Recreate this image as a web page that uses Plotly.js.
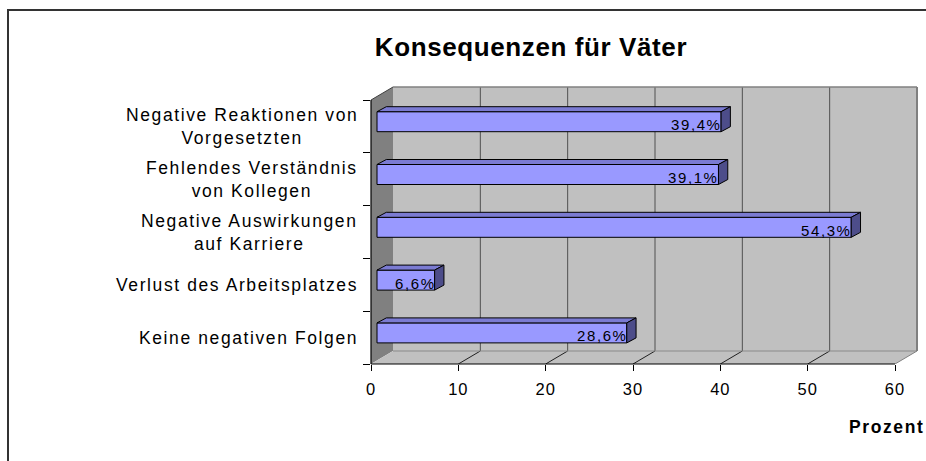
<!DOCTYPE html>
<html><head><meta charset="utf-8">
<script src="https://cdn.plot.ly/plotly-3.0.1.min.js"></script>
<style>
html,body{margin:0;padding:0;background:#fff;}
#chart{width:926px;height:461px;}
text.annotation-text{letter-spacing:1.6px;}
text.gtitle{letter-spacing:0.6px;}
.xtick text{letter-spacing:1px;}
</style>
</head><body><div id="chart"></div>
<script>
// ---- data (bottom to top) ----
const categories = [
  "Keine negativen Folgen",
  "Verlust des Arbeitsplatzes",
  "Negative Auswirkungen<br>auf Karriere",
  "Fehlendes Verständnis<br>von Kollegen",
  "Negative Reaktionen von<br>Vorgesetzten"
];
const values = [28.6, 6.6, 54.3, 39.1, 39.4];
const xTickVals = [0, 10, 20, 30, 40, 50, 60];
const xTickText = ["0", "10", "20", "30", "40", "50", "60"];
const chartTitle = "Konsequenzen für Väter";
const xTitle = "Prozent";

// ---- geometry ----
const L = 371, R = 919, T = 85, B = 364;
const k = 524 / 60;      // px per percent
const m = 52.8;          // px per category
const xr = [0, (R - L) / k];
const yr = [-0.5, -0.5 + (B - T) / m];
const dX = 22 / k, dY = 13 / m;     // wall depth
const bX = 6 / k, bY = 4.7 / m;     // bar plane offset
const bH = 20 / m;                  // bar thickness
const tX = 9.3 / k, tY = 5 / m;     // bar depth
const xMax = xTickVals[xTickVals.length - 1];
const yTop = categories.length - 0.5;

const px2x = p => (p - L) / (R - L);
const py2y = p => (B - p) / (B - T);
const d2px = x => (x - xr[0]) / (xr[1] - xr[0]);
const d2py = y => (y - yr[0]) / (yr[1] - yr[0]);

const P = pts => "M" + pts.map(p => p[0] + "," + p[1]).join(" L") + " Z";

const shapes = [];
// back wall
shapes.push({type:"path", xref:"x", yref:"y", layer:"below", line:{width:0},
  fillcolor:"#c0c0c0",
  path:P([[dX,-0.5+dY],[xMax+dX,-0.5+dY],[xMax+dX,yTop+dY],[dX,yTop+dY]])});
// left wall
shapes.push({type:"path", xref:"x", yref:"y", layer:"below", line:{width:0},
  fillcolor:"#808080",
  path:P([[0,-0.5],[dX,-0.5+dY],[dX,yTop+dY],[0,yTop]])});
// floor
shapes.push({type:"path", xref:"x", yref:"y", layer:"below", line:{width:0},
  fillcolor:"#c0c0c0",
  path:P([[0,-0.5],[xMax,-0.5],[xMax+dX,-0.5+dY],[dX,-0.5+dY]])});
// back gridlines
xTickVals.slice(1, -1).forEach(v => {
  shapes.push({type:"line", xref:"x", yref:"y", layer:"below",
    x0:v+dX, x1:v+dX, y0:-0.5+dY, y1:yTop+dY, line:{color:"#505050", width:1}});
});
// floor diagonals
xTickVals.slice(1).forEach(v => {
  shapes.push({type:"line", xref:"x", yref:"y", layer:"below",
    x0:v, x1:v+dX, y0:-0.5, y1:-0.5+dY,
    line:{color: v === xMax ? "#808080" : "#202020", width:1}});
});
// floor back edge
shapes.push({type:"line", xref:"x", yref:"y", layer:"below",
  x0:dX, x1:xMax+dX, y0:-0.5+dY, y1:-0.5+dY, line:{color:"#8a8a8a", width:1}});
// wall top edge & right edge
shapes.push({type:"line", xref:"x", yref:"y", layer:"below",
  x0:dX, x1:xMax+dX, y0:yTop+dY, y1:yTop+dY, line:{color:"#808080", width:1.5}});
shapes.push({type:"line", xref:"x", yref:"y", layer:"below",
  x0:xMax+dX, x1:xMax+dX, y0:-0.5+dY, y1:yTop+dY, line:{color:"#808080", width:2}});
// top-left diagonal
shapes.push({type:"line", xref:"x", yref:"y", layer:"below",
  x0:0, x1:dX, y0:yTop, y1:yTop+dY, line:{color:"#404040", width:1}});
// front axis lines (paper, to avoid clipping)
shapes.push({type:"line", xref:"paper", yref:"paper",
  x0:d2px(0), x1:d2px(xMax), y0:d2py(-0.5), y1:d2py(-0.5), line:{color:"#000", width:1}});
shapes.push({type:"line", xref:"paper", yref:"paper",
  x0:d2px(0), x1:d2px(0), y0:d2py(-0.5), y1:d2py(yTop), line:{color:"#000", width:1.2}});
// outer frame
shapes.push({type:"rect", xref:"paper", yref:"paper",
  x0:px2x(8), x1:px2x(1100), y0:py2y(10), y1:py2y(700), line:{color:"#333", width:2}, fillcolor:"rgba(0,0,0,0)"});

const traces = [];
const ypos = categories.map((c, i) => i + bY);
traces.push({
  type:"bar", orientation:"h", x: values, y: ypos, base: bX, width: bH,
  marker:{color:"#9999ff", line:{color:"#000", width:1}},
  hoverinfo:"skip", showlegend:false
});
values.forEach((v, i) => {
  const yt = i + bY + bH / 2, yb = i + bY - bH / 2;
  traces.push({type:"scatter", mode:"lines", fill:"toself", fillcolor:"#7b7bd2",
    line:{color:"#000", width:1}, hoverinfo:"skip", showlegend:false,
    x:[bX, bX+v, bX+v+tX, bX+tX, bX], y:[yt, yt, yt+tY, yt+tY, yt]});
  traces.push({type:"scatter", mode:"lines", fill:"toself", fillcolor:"#4d4d8a",
    line:{color:"#000", width:1}, hoverinfo:"skip", showlegend:false,
    x:[bX+v, bX+v+tX, bX+v+tX, bX+v, bX+v], y:[yb, yb+tY, yt+tY, yt, yb]});
});

const font = "Liberation Sans, Arial, sans-serif";
const annotations = [];
categories.forEach((c, i) => {
  annotations.push({text:c, xref:"paper", yref:"y", x:px2x(360), y:i,
    xanchor:"right", yanchor:"middle", align:"center", showarrow:false,
    font:{family:font, size:17.5, color:"#000"}});
});
values.forEach((v, i) => {
  annotations.push({text: v.toFixed(1).replace(".", ",") + "%", xref:"x", yref:"y",
    x: bX + v, y: i + bY, xanchor:"right", yanchor:"middle", yshift:-3, xshift:3,
    align:"right", showarrow:false, font:{family:font, size:15, color:"#000"}});
});
annotations.push({text:"<b>" + xTitle + "</b>", xref:"paper", yref:"paper",
  x:px2x(847), y:py2y(427), xanchor:"left", yanchor:"middle", align:"left",
  showarrow:false, font:{family:font, size:17.5, color:"#000"}});

const layout = {
  width:926, height:461,
  margin:{l:L, r:926-R, t:T, b:461-B, pad:0},
  paper_bgcolor:"#fff", plot_bgcolor:"rgba(0,0,0,0)",
  title:{text:"<b>" + chartTitle + "</b>", xref:"container", yref:"container",
    x:531/926, y:1-47/461, xanchor:"center", yanchor:"middle",
    font:{family:font, size:26, color:"#000"}},
  xaxis:{range:xr, tickmode:"array", tickvals:xTickVals, ticktext:xTickText,
    ticks:"outside", ticklen:6, tickcolor:"#000", tickwidth:1, ticklabelstandoff:4,
    tickfont:{family:font, size:16.5, color:"#000"},
    showgrid:false, zeroline:false, showline:false, fixedrange:true},
  yaxis:{range:yr, tickmode:"array", tickvals:categories.map((c,i)=>i-0.5).concat([yTop]),
    ticks:"outside", ticklen:7, tickcolor:"#000", tickwidth:1, showticklabels:false,
    showgrid:false, zeroline:false, showline:false, fixedrange:true},
  shapes: shapes, annotations: annotations, showlegend:false
};
Plotly.newPlot("chart", traces, layout, {displayModeBar:false, staticPlot:true});
</script>
</body></html>
